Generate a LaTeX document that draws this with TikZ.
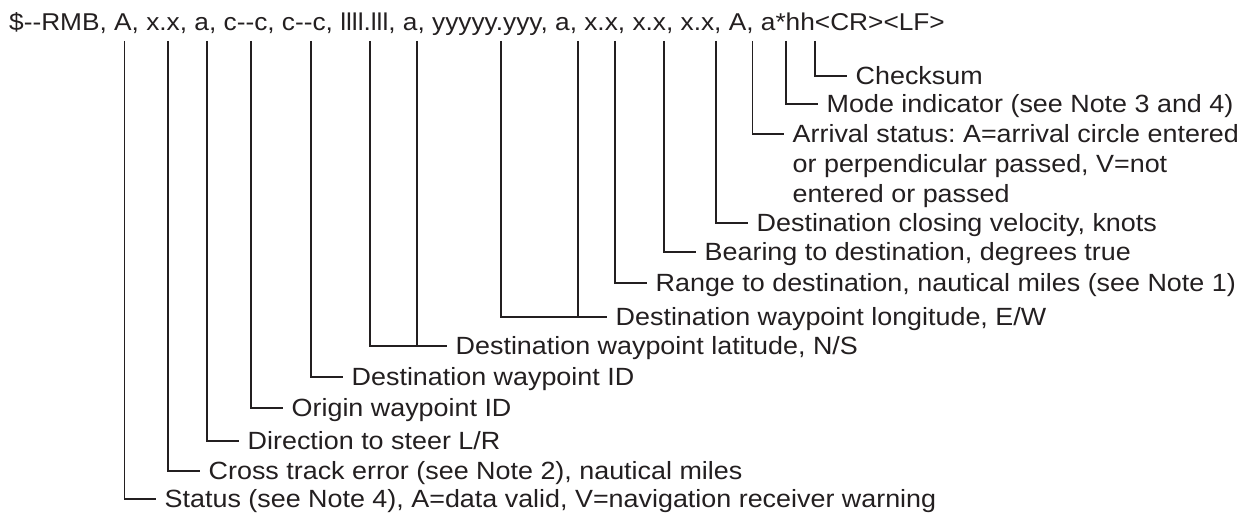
\documentclass[tikz,border=0pt]{standalone}
\usepackage{fontspec}
\setmainfont{Liberation Sans}[FakeStretch=1.08]
\newcommand\hy{\mbox{-}}
\definecolor{ink}{HTML}{231F20}
\begin{document}
\frenchspacing
\begin{tikzpicture}[x=1bp,y=-1bp,
  lbl/.style={anchor=base west, inner sep=0pt, text=ink, align=left,
    font=\fontsize{25}{30}\selectfont},
  hdrtext/.style={anchor=base west, inner sep=0pt, text=ink,
    font=\fontsize{24.4}{30}\selectfont},
  conn/.style={draw=ink, line width=1.2bp}]
\useasboundingbox (0,0) rectangle (1242,515);
\node[hdrtext] (hdr) at (9,30.5) {\$\hy\hy RMB, A, x.x, a, c\hy\hy c, c\hy\hy c, llll.lll, a, yyyyy.yyy, a, x.x, x.x, x.x, A, a*hh<CR><LF>};
% tops of the field leaders
\coordinate (t1) at (124.5,41);
\coordinate (t2) at (168,41);
\coordinate (t3) at (207,41);
\coordinate (t4) at (251,41);
\coordinate (t5) at (311,41);
\coordinate (t6a) at (370,41);
\coordinate (t6b) at (417,41);
\coordinate (t7a) at (501,41);
\coordinate (t7b) at (578,41);
\coordinate (t8) at (615,41);
\coordinate (t9) at (664,41);
\coordinate (t10) at (716,41);
\coordinate (t11) at (752.5,41);
\coordinate (t12) at (786,41);
\coordinate (t13) at (815,41);
% labels
\node[lbl] (l1) at (164.5,507.5) {Status (see Note 4), A=data valid, V=navigation receiver warning};
\node[lbl] (l2) at (208.5,479.5) {Cross track error (see Note 2), nautical miles};
\node[lbl] (l3) at (247.5,449.5) {Direction to steer L/R};
\node[lbl] (l4) at (291.5,416.5) {Origin waypoint ID};
\node[lbl] (l5) at (351.5,385.5) {Destination waypoint ID};
\node[lbl] (l6) at (455.5,354.5) {Destination waypoint latitude, N/S};
\node[lbl] (l7) at (615.5,325.5) {Destination waypoint longitude, E/W};
\node[lbl] (l8) at (655.5,291.5) {Range to destination, nautical miles (see Note 1)};
\node[lbl] (l9) at (704.5,260.5) {Bearing to destination, degrees true};
\node[lbl] (l10) at (756.5,231.5) {Destination closing velocity, knots};
% multi-line node: its base is the baseline of its last line
\node[lbl] (l11) at (792.5,202.5) {Arrival status: A=arrival circle entered\\or perpendicular passed, V=not\\entered or passed};
\node[lbl] (l12) at (826.5,112.5) {Mode indicator (see Note 3 and 4)};
\node[lbl] (l13) at (855.5,84.5) {Checksum};
% ends of the horizontal leaders
\foreach \i in {1,...,10,12,13}{
  \coordinate (h\i) at ([xshift=-8.5bp,yshift=8.5bp]l\i.base west);
}
\coordinate (h11) at ([xshift=-8.5bp,yshift=68.5bp]l11.base west);
% connectors
\draw[conn] (t1) |- (h1);
\draw[conn] (t2) |- (h2);
\draw[conn] (t3) |- (h3);
\draw[conn] (t4) |- (h4);
\draw[conn] (t5) |- (h5);
\draw[conn] (t6a) |- (h6);
\draw[conn] (t6b) -- (t6b |- h6);
\draw[conn] (t7a) |- (h7);
\draw[conn] (t7b) -- (t7b |- h7);
\draw[conn] (t8) |- (h8);
\draw[conn] (t9) |- (h9);
\draw[conn] (t10) |- (h10);
\draw[conn] (t11) |- (h11);
\draw[conn] (t12) |- (h12);
\draw[conn] (t13) |- (h13);
\end{tikzpicture}
\end{document}
